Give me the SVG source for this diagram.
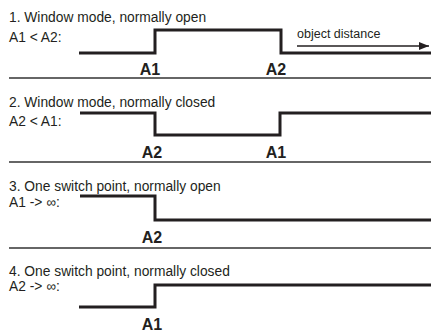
<svg xmlns="http://www.w3.org/2000/svg" width="431" height="332" viewBox="0 0 431 332">
<defs>
<style>
.t{font-family:"Liberation Sans",Arial,sans-serif;font-size:13.8px;fill:#231f20}
.s{font-family:"Liberation Sans",Arial,sans-serif;font-size:12.5px;fill:#231f20}
.l{font-family:"Liberation Sans",Arial,sans-serif;font-size:16px;font-weight:bold;fill:#231f20;text-anchor:middle}
.w{fill:none;stroke:#231f20;stroke-width:3}
.sep{stroke:#333;stroke-width:1.5}
.ar{stroke:#231f20;stroke-width:1.5}
</style>
<marker id="ah" markerWidth="10" markerHeight="8" refX="10" refY="4" orient="auto" markerUnits="userSpaceOnUse">
<path d="M0,0 L10,4 L0,8 Z" fill="#231f20"/>
</marker>
</defs>
<rect width="431" height="332" fill="#fff"/>
<g id="panel1">
<text class="t" x="9" y="22">1. Window mode, normally open</text>
<text class="t" x="9" y="42">A1 &lt; A2:</text>
<text class="s" x="297" y="38">object distance</text>
<text class="l" x="150" y="75">A1</text>
<text class="l" x="276" y="75">A2</text>
</g>
<g id="panel2">
<text class="t" x="9" y="107">2. Window mode, normally closed</text>
<text class="t" x="9" y="126">A2 &lt; A1:</text>
<text class="l" x="152" y="158">A2</text>
<text class="l" x="276" y="158">A1</text>
</g>
<g id="panel3">
<text class="t" x="9" y="191">3. One switch point, normally open</text>
<text class="t" x="9" y="207">A1 -&gt; ∞:</text>
<text class="l" x="152" y="243">A2</text>
</g>
<g id="panel4">
<text class="t" x="9" y="276">4. One switch point, normally closed</text>
<text class="t" x="9" y="291">A2 -&gt; ∞:</text>
<text class="l" x="152" y="330">A1</text>
</g>
<g id="connectors">
<path class="w" d="M79,53 H155 V30 H281 V53 H431"/>
<line class="ar" x1="297" y1="46" x2="429" y2="46" marker-end="url(#ah)"/>
<line class="sep" x1="9" y1="78" x2="431" y2="78"/>
<path class="w" d="M80,113 H155 V135 H280 V113 H431"/>
<line class="sep" x1="9" y1="162" x2="431" y2="162"/>
<path class="w" d="M80,196 H155 V220 H431"/>
<line class="sep" x1="9" y1="248" x2="431" y2="248"/>
<path class="w" d="M79,307 H155 V285 H431"/>
</g>
</svg>
